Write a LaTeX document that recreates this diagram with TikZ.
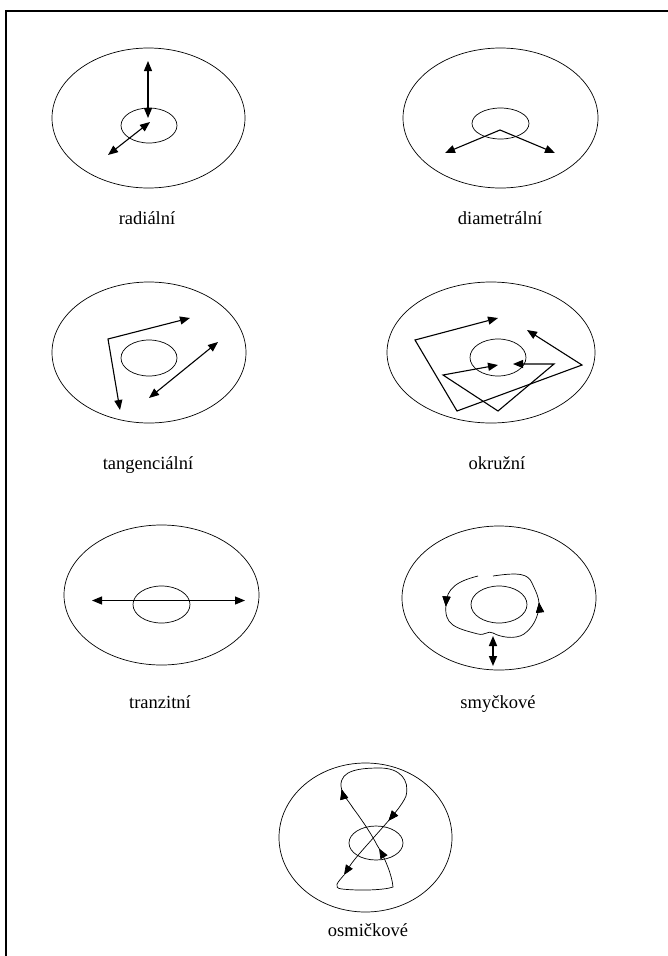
\documentclass[tikz,border=0pt]{standalone}
\usepackage{fontspec}
\setmainfont{Liberation Serif}
\usetikzlibrary{arrows.meta}
\usetikzlibrary{decorations.markings}

\tikzset{
  tip/.tip={Triangle[length=10pt,width=8pt]},
  disk/.style={line width=0.7pt},
  move/.style={line width=1.1pt},
  lbl/.style={font=\fontsize{18.5}{22}\selectfont, anchor=base},
  flow/.style={postaction={decorate}, decoration={markings, mark=at position #1 with {\arrow{tip}}}}
}

\begin{document}
\begin{tikzpicture}[x=1pt,y=-1pt]
\useasboundingbox (0,0) rectangle (668,956);
\draw[line width=2pt] (6,956) -- (6,11) -- (668,11);

% radialni
\draw[disk] (148.5,118) ellipse (96.5 and 70);
\draw[disk] (149,125.5) ellipse (28 and 17.5);
\draw[move,tip-tip] (148,61) -- (148,118);
\draw[move,tip-tip] (150,122) -- (108,155);
\node[lbl] (radial) at (147,224) {radiální};

% diametralni
\draw[disk] (500.5,118) ellipse (97.5 and 70);
\draw[disk] (500.5,123.5) ellipse (28.5 and 15.5);
\coordinate (apex) at (500,130);
\draw[move,-tip] (apex) -- (445,153);
\draw[move,-tip] (apex) -- (555,153);
\node[lbl] (diam) at (500,224) {diametrální};

% tangencialni
\draw[disk] (149,352.5) ellipse (97 and 70.5);
\draw[disk] (149,358) ellipse (28 and 18);
\draw[move,tip-tip] (120,410) -- (108,339) -- (190,318);
\draw[move,tip-tip] (218,342) -- (149,398);
\node[lbl] (tang) at (148,469) {tangenciální};

% okruzni
\draw[disk] (491,352.5) ellipse (104 and 70.5);
\draw[disk] (498,357.5) ellipse (28 and 18.5);
\draw[move,tip-tip] (498,318) -- (415,340) -- (457,411) -- (582,365) -- (527,330);
\draw[move,tip-tip] (498,365) -- (443,375) -- (498,411) -- (554,364) -- (513,364);
\node[lbl] (okr) at (497,469) {okružní};

% tranzitni
\draw[disk] (161.5,595) ellipse (97.5 and 70);
\draw[disk] (161.5,604.5) ellipse (28.5 and 18.5);
\draw[move,tip-tip] (92,600.5) -- (245,600.5);
\node[lbl] (tranz) at (160,708) {tranzitní};

% smyckove
\draw[disk] (499,598) ellipse (97 and 72);
\draw[disk] (499,604.5) ellipse (28 and 18.5);
\draw[disk,flow=0.2,flow=0.74] (478,576) .. controls (458,581) and (446,588) .. (446,605)
  .. controls (444,625) and (455,628) .. (478,634)
  .. controls (485,636) and (488,630) .. (493,633)
  .. controls (500,637) and (515,640) .. (524,634)
  .. controls (532,628) and (537,620) .. (539,608)
  .. controls (540,598) and (535,590) .. (532,583)
  .. controls (528,574) and (520,572) .. (493,576);
\draw[line width=1.6pt,tip-tip] (493,636) -- (493,666);
\node[lbl] (smyc) at (498,708) {smyčkové};

% osmickove
\draw[disk] (365.5,837.5) ellipse (86.5 and 74.5);
\draw[disk] (376,843) ellipse (27 and 17);
\coordinate (cross) at (353,808);
\coordinate (low) at (344,875);
\draw[disk,-tip,flow=0.1,flow=0.68] (cross) .. controls (348,800) and (342,795) .. (341,786)
  .. controls (340,770) and (360,768) .. (380,768)
  .. controls (400,768) and (410,780) .. (406,796)
  .. controls (400,812) and (360,850) .. (low);
\draw[disk,flow=0.7] (low) .. controls (338,882) and (332,888) .. (342,889)
  .. controls (360,891) and (385,890) .. (393,887)
  .. controls (392,875) and (385,858) .. (377,845)
  .. controls (372,835) and (362,820) .. (cross);
\node[lbl] (osm) at (368,936) {osmičkové};
\end{tikzpicture}
\end{document}
